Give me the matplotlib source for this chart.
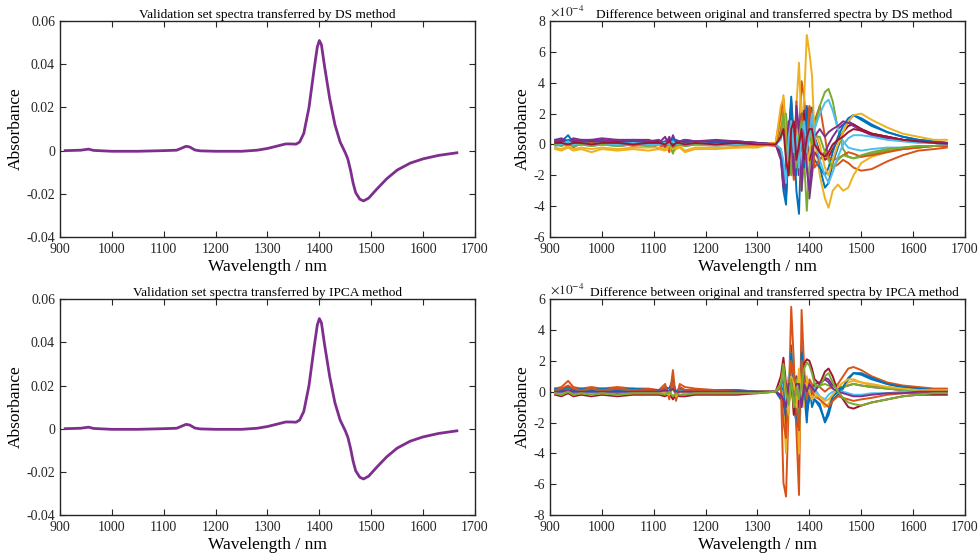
import matplotlib
matplotlib.use("Agg")
import matplotlib.pyplot as plt
import numpy as np

plt.rcParams['font.family'] = ['Liberation Serif', 'DejaVu Serif']
plt.rcParams['mathtext.fontset'] = 'stix'

# ---- mean validation spectrum (same shape for DS and IPCA panels)
wl_spec = [910, 940, 955, 965, 1000, 1050, 1100, 1125, 1135, 1143, 1150, 1160, 1170,
           1200, 1250, 1280, 1300, 1320, 1335, 1345, 1355, 1362, 1370, 1380, 1390,
           1396, 1400, 1404, 1410, 1420, 1430, 1440, 1450, 1455, 1460, 1465, 1470,
           1478, 1485, 1495, 1510, 1530, 1550, 1575, 1600, 1630, 1665]
abs_spec = [0.0, 0.0002, 0.0007, 0.0001, -0.0003, -0.0003, 0.0, 0.0002, 0.0012, 0.002,
            0.0017, 0.0003, -0.0001, -0.0003, -0.0003, 0.0002, 0.001, 0.0022, 0.0031,
            0.0031, 0.003, 0.004, 0.008, 0.02, 0.038, 0.048, 0.051, 0.049, 0.039, 0.024,
            0.012, 0.004, -0.001, -0.004, -0.009, -0.015, -0.0195, -0.0225, -0.0233,
            -0.022, -0.018, -0.013, -0.009, -0.0058, -0.0038, -0.0022, -0.001]

# ---- wavelength grid of the difference curves
wl_diff = [910, 922, 935, 945, 960, 980, 1000, 1030, 1060, 1090,
           1110, 1122, 1130, 1137, 1143, 1150, 1160, 1180, 1220, 1260,
           1300, 1335, 1345, 1350, 1355, 1360, 1365, 1370, 1375, 1380,
           1385, 1390, 1395, 1400, 1405, 1410, 1420, 1430, 1437, 1445,
           1455, 1465, 1475, 1485, 1500, 1520, 1550, 1580, 1610, 1640, 1665]

# DS differences (x 1e-4)
ds_1 = [0.3, 0.2, 0.6, 0.1, 0.3, 0.2, 0.3, 0.2, 0.3, 0.2, 0.2, 0.1, 0.4, 0.0, 0.3, 0.2, 0.3, 0.2, 0.2, 0.2, 0.1,
        0.0, -0.5, -3.0, -3.9, 0.5, 3.1, 0.5, -3.0, -4.5, 1.0, 2.5, -1.0, 2.0, 2.4, 0.5,
        -1.5, -2.8, -2.5, -1.2, -0.2, 0.8, 1.5, 1.9, 1.6, 1.2, 0.8, 0.5, 0.3, 0.2, 0.1]
ds_2 = [0.1, -0.1, 0.2, -0.2, 0.1, -0.1, 0.1, -0.1, 0.0, 0.1, -0.3, 0.2, -0.5, 0.3, -0.2, 0.0, -0.1, 0.0, 0.0, -0.1, 0.0,
        -0.1, 1.0, 2.5, 1.0, -2.0, 2.6, -2.3, 1.5, 0.5, 4.1, 3.0, 0.5, 2.5, 2.0, 1.5,
        2.5, 0.5, -1.0, -1.5, -1.3, -1.0, -1.2, -1.5, -1.7, -1.6, -1.1, -0.7, -0.4, -0.3, -0.2]
ds_3 = [-0.3, -0.4, -0.2, -0.4, -0.3, -0.5, -0.3, -0.4, -0.3, -0.4, -0.3, -0.4, -0.2, -0.5, -0.3, -0.2, -0.5, -0.3, -0.3, -0.2, -0.2,
        0.1, 1.5, 3.2, 1.0, -1.5, 2.0, -1.0, 2.5, 5.3, 1.0, 3.0, 7.1, 6.0, 4.5, 0.5,
        -2.0, -3.5, -4.1, -3.0, -2.6, -3.0, -2.8, -2.0, -1.2, -0.8, -0.5, -0.3, -0.2, -0.1, -0.1]
ds_4 = [0.3, 0.4, 0.2, 0.4, 0.3, 0.3, 0.4, 0.3, 0.3, 0.3, 0.1, 0.5, -0.2, 0.6, 0.1, 0.2, 0.3, 0.2, 0.3, 0.2, 0.1,
        0.0, -0.8, -2.5, -3.2, 0.8, 2.5, -1.5, 2.2, -2.0, 1.5, 2.2, -1.0, -3.5, -2.0, -0.5,
        -1.0, -0.5, 0.0, 0.5, 1.0, 1.3, 1.5, 1.3, 1.0, 0.7, 0.5, 0.3, 0.2, 0.1, 0.1]
ds_5 = [0.2, 0.1, 0.2, 0.0, 0.1, 0.1, 0.0, 0.1, 0.1, 0.0, 0.0, -0.1, 0.2, -0.6, 0.1, 0.0, 0.1, 0.0, 0.1, 0.0, 0.0,
        0.0, 0.5, 1.5, 2.0, -0.5, -2.0, 1.0, 1.5, -1.0, -3.0, -1.0, -4.3, -1.5, 0.0, 1.0,
        2.5, 3.4, 3.6, 2.8, 1.0, -0.3, -0.8, -0.9, -0.8, -0.6, -0.4, -0.3, -0.2, -0.1, -0.05]
ds_6 = [-0.1, 0.0, 0.1, -0.1, 0.0, -0.1, 0.0, -0.1, 0.0, -0.1, 0.0, 0.0, 0.1, -0.1, 0.0, 0.0, -0.1, 0.0, -0.1, 0.0, 0.0,
        0.0, 0.3, 1.2, -0.5, -1.5, 1.8, 0.0, -1.0, 1.5, -2.0, 0.5, -1.0, 1.0, 1.5, 1.0,
        2.0, 2.7, 2.9, 2.2, 1.0, 0.2, -0.2, -0.3, -0.4, -0.3, -0.2, -0.2, -0.1, -0.1, 0.0]
ds_7 = [0.1, 0.2, 0.1, 0.2, 0.1, 0.2, 0.1, 0.2, 0.1, 0.1, 0.2, 0.0, 0.3, 0.0, 0.1, 0.1, 0.1, 0.1, 0.1, 0.1, 0.1,
        0.0, -0.5, -1.5, -2.0, 1.0, 1.5, -1.5, 1.0, 1.5, -1.0, 2.0, 1.0, -1.0, -0.5, 0.5,
        -0.5, -1.0, -0.8, -0.3, 0.3, 0.8, 1.2, 1.3, 1.0, 0.7, 0.5, 0.3, 0.2, 0.1, 0.1]
ds_8 = [0.2, 0.1, 0.3, 0.1, 0.2, 0.1, 0.2, 0.1, 0.2, 0.1, 0.1, 0.2, 0.0, 0.4, 0.1, 0.1, 0.2, 0.1, 0.1, 0.1, 0.1,
        0.0, -0.3, -1.5, -3.4, -0.5, 2.8, -1.0, -2.0, 1.0, 2.0, -1.5, 2.5, 1.0, -0.5, -1.0,
        -1.5, -2.0, -1.5, -0.5, 0.5, 1.2, 1.7, 1.9, 1.7, 1.3, 0.8, 0.5, 0.3, 0.2, 0.1]
ds_9 = [0.0, 0.1, -0.1, 0.1, 0.0, 0.1, 0.0, 0.1, -0.1, 0.0, 0.1, -0.2, 0.1, 0.0, -0.1, 0.1, 0.0, 0.1, 0.0, 0.0, 0.0,
        0.1, 2.0, 2.9, 0.5, -1.5, 1.0, -2.2, 2.8, -1.0, 2.0, 1.0, -0.5, 2.4, 1.0, -1.5,
        -1.0, -0.5, -0.8, -1.0, -0.9, -0.7, -0.5, -0.6, -0.8, -0.7, -0.5, -0.3, -0.2, -0.1, -0.1]
ds_10 = [-0.2, -0.3, -0.1, -0.3, -0.2, -0.3, -0.2, -0.3, -0.2, -0.2, -0.2, -0.3, -0.1, -0.3, -0.2, -0.1, -0.4, -0.2, -0.2, -0.2, -0.1,
         0.1, 2.5, 3.0, 0.5, -1.0, 1.5, -0.5, 1.0, 0.0, -1.0, 0.5, -1.5, -0.5, 0.5, 1.0,
         0.0, -1.5, -2.0, -1.0, 0.0, 0.8, 1.5, 1.9, 2.0, 1.6, 1.1, 0.7, 0.5, 0.3, 0.3]
ds_11 = [0.2, 0.3, 0.1, 0.3, 0.2, 0.3, 0.2, 0.3, 0.2, 0.2, 0.3, -0.1, 0.5, -0.1, 0.2, 0.2, 0.2, 0.2, 0.2, 0.2, 0.1,
         0.0, -1.0, -2.8, -1.5, 1.5, 0.5, -2.0, 2.5, 1.0, -3.0, 1.0, -1.5, -3.0, -1.0, 0.5,
         1.0, 0.5, 0.8, 1.0, 1.2, 1.5, 1.4, 1.2, 0.9, 0.6, 0.4, 0.3, 0.2, 0.1, 0.1]
ds_12 = [0.0, -0.1, 0.1, -0.1, 0.0, -0.1, 0.0, -0.1, 0.0, -0.1, 0.0, 0.0, 0.0, -0.2, 0.0, 0.0, -0.1, 0.0, 0.0, 0.0, 0.0,
         0.0, 0.5, 2.0, 0.0, -1.0, 1.0, 0.5, -1.5, 0.5, 1.5, -1.0, 0.5, 1.0, 0.0, 0.5,
         0.5, -0.5, -1.0, -1.5, -1.0, -0.7, -0.8, -0.9, -0.7, -0.5, -0.3, -0.2, -0.1, -0.1, 0.0]
ds_13 = [0.1, 0.0, 0.2, 0.0, 0.1, 0.0, 0.1, 0.0, 0.1, 0.0, 0.0, 0.1, 0.0, 0.2, 0.0, 0.1, 0.0, 0.1, 0.0, 0.0, 0.0,
         0.0, -0.3, -1.0, -2.5, 0.5, 1.5, -0.5, 0.5, -1.5, 0.5, 1.5, -0.5, 0.5, 2.0, 0.5,
         -1.0, -2.0, -2.5, -1.8, -0.8, 0.0, 0.4, 0.6, 0.6, 0.5, 0.3, 0.2, 0.1, 0.1, 0.0]
ds_14 = [0.1, 0.1, 0.0, 0.1, 0.1, 0.0, 0.1, 0.1, 0.0, 0.1, 0.1, 0.0, 0.2, -0.1, 0.1, 0.1, 0.0, 0.1, 0.0, 0.1, 0.0,
         0.0, 0.5, 1.0, -1.0, -2.0, 1.0, 1.5, -1.0, 0.0, 1.0, -1.0, 0.5, 1.0, 1.0, 0.0,
         -0.5, -0.8, -0.5, 0.0, 0.3, 0.5, 0.8, 1.0, 0.9, 0.7, 0.5, 0.3, 0.2, 0.1, 0.05]

# IPCA differences (x 1e-4)
ipca_1 = [0.1, 0.0, 0.3, 0.1, 0.0, 0.1, 0.0, 0.1, 0.0, 0.1, 0.0, 0.3, 0.2, 0.8, -0.2, 0.3, 0.1, 0.0, 0.1, 0.0, 0.0,
          0.0, -0.5, 1.0, -3.0, -1.0, 3.0, -1.0, -2.0, -3.5, 3.0, 0.0, -2.0, 0.5, -1.0, -0.5,
          -0.8, -2.0, -1.5, -0.5, -0.2, 0.2, 0.8, 1.2, 1.1, 0.8, 0.5, 0.3, 0.2, 0.1, 0.1]
ipca_2 = [0.2, 0.3, 0.7, 0.3, 0.2, 0.3, 0.2, 0.3, 0.2, 0.2, 0.1, 0.5, -0.5, 1.4, -0.6, 0.5, 0.3, 0.2, 0.1, 0.1, 0.0,
          0.0, 0.5, -5.9, -6.8, -1.0, 5.5, 2.0, -2.5, -6.7, 5.3, 1.5, -1.0, 0.8, 0.5, 0.3,
          0.3, 0.0, 0.2, 0.3, 0.5, 1.0, 1.5, 1.6, 1.4, 1.0, 0.6, 0.4, 0.3, 0.2, 0.2]
ipca_3 = [-0.1, 0.0, 0.2, 0.0, -0.1, 0.0, -0.1, 0.0, -0.1, 0.0, -0.1, 0.2, -0.2, 0.5, -0.3, 0.2, 0.0, -0.1, 0.0, -0.1, 0.0,
          0.0, 0.3, -1.0, -4.0, 0.5, 2.5, -1.5, 1.0, -4.0, 2.0, -1.0, 1.0, -0.5, -0.3, 0.0,
          -0.5, -1.0, -0.8, -0.3, 0.0, 0.3, 0.6, 0.7, 0.6, 0.4, 0.3, 0.2, 0.1, 0.1, 0.1]
ipca_4 = [0.0, -0.1, 0.1, -0.1, 0.0, -0.1, 0.0, -0.1, 0.0, -0.1, 0.0, 0.0, 0.0, 0.3, -0.1, 0.0, -0.1, 0.0, 0.0, 0.0, 0.0,
          0.0, -0.3, -0.8, -1.6, -0.8, 0.3, -0.5, 1.0, 0.0, -0.5, 1.0, -1.3, -0.5, 0.0, 0.5,
          0.6, 0.9, 0.8, 0.4, 0.2, 0.3, 0.4, 0.5, 0.4, 0.3, 0.2, 0.1, 0.1, 0.1, 0.0]
ipca_5 = [0.1, 0.0, 0.2, 0.0, 0.1, 0.0, 0.1, 0.0, 0.1, 0.0, 0.1, 0.1, 0.0, 0.4, 0.0, 0.1, 0.0, 0.1, 0.0, 0.0, 0.0,
          0.0, 0.5, 1.0, -1.5, 0.5, 1.8, -0.8, 0.8, -1.5, 1.5, -0.5, 0.5, 0.2, 0.0, 0.3,
          0.4, 0.5, 0.4, 0.3, 0.4, 0.3, 0.4, 0.5, 0.4, 0.3, 0.2, 0.1, 0.1, 0.1, 0.0]
ipca_6 = [0.0, -0.1, 0.1, 0.0, 0.0, -0.1, 0.0, 0.0, -0.1, 0.0, 0.0, 0.1, -0.1, 0.3, -0.1, 0.1, 0.0, 0.0, 0.0, 0.0, 0.0,
          0.0, 0.2, 0.5, -0.5, 1.0, 1.5, -0.5, -1.0, 1.0, -1.0, 0.5, -0.5, 0.0, 0.3, 0.2,
          -0.3, -0.5, -0.2, 0.0, 0.1, 0.0, -0.1, -0.2, -0.2, -0.1, -0.1, 0.0, 0.0, 0.0, 0.0]
ipca_7 = [-0.2, -0.3, -0.1, -0.3, -0.2, -0.3, -0.2, -0.3, -0.2, -0.2, -0.2, -0.3, -0.1, -0.5, -0.2, -0.3, -0.3, -0.2, -0.2, -0.2, -0.1,
          0.0, 1.0, 2.2, 0.5, -1.0, 1.0, -1.5, 0.5, -1.0, 1.0, 1.8, 2.1, 2.0, 1.5, 0.8,
          0.5, 1.3, 1.5, 1.0, 0.0, -0.5, -1.0, -1.1, -0.9, -0.7, -0.5, -0.3, -0.2, -0.2, -0.2]
ipca_8 = [0.2, 0.1, 0.3, 0.1, 0.2, 0.1, 0.2, 0.1, 0.2, 0.1, 0.1, 0.2, 0.0, 0.5, 0.0, 0.2, 0.1, 0.1, 0.1, 0.1, 0.0,
          0.0, 0.3, 1.5, -2.0, -0.5, 2.5, 0.0, -1.5, -2.5, 2.5, 0.5, -1.5, 0.0, -0.5, -0.5,
          -1.0, -1.9, -1.2, -0.3, 0.0, 0.3, 0.9, 1.2, 1.2, 0.9, 0.5, 0.3, 0.2, 0.1, 0.1]
ipca_9 = [0.1, 0.2, 0.4, 0.2, 0.1, 0.2, 0.1, 0.2, 0.1, 0.1, 0.0, 0.3, -0.3, 0.6, -0.4, 0.3, 0.1, 0.1, 0.1, 0.0, 0.0,
          0.0, 0.3, -2.0, -3.0, 0.3, 2.0, 1.0, -1.0, -2.5, 2.0, 0.5, -0.5, 0.5, 0.0, -0.3,
          -0.5, -0.8, -1.0, -0.6, -0.3, -0.4, -0.5, -0.6, -0.5, -0.4, -0.2, -0.1, -0.1, 0.0, 0.0]
ipca_10 = [-0.1, -0.2, 0.0, -0.2, -0.1, -0.2, -0.1, -0.2, -0.1, -0.1, -0.1, -0.1, -0.2, 0.2, -0.3, 0.0, -0.1, -0.1, -0.1, -0.1, 0.0,
           0.0, 0.5, 1.5, -0.5, -1.5, 1.0, 0.5, -1.0, 1.5, -0.5, 0.5, 0.5, 0.0, -0.5, -0.3,
           -0.3, -0.6, -0.5, -0.2, 0.3, 0.6, 0.8, 0.8, 0.6, 0.5, 0.3, 0.2, 0.1, 0.1, 0.1]
ipca_11 = [0.0, 0.0, 0.1, 0.0, 0.0, 0.0, 0.0, 0.0, 0.0, 0.0, 0.0, 0.1, 0.0, 0.2, -0.1, 0.0, 0.0, 0.0, 0.0, 0.0, 0.0,
           0.0, -0.2, -0.5, -1.0, 0.5, 0.5, -1.0, 0.5, 0.5, -1.0, 0.5, 0.0, 0.5, 0.3, 0.0,
           0.5, 0.8, 0.6, 0.2, 0.0, -0.1, -0.2, -0.3, -0.3, -0.2, -0.1, -0.1, 0.0, 0.0, 0.0]
ipca_12 = [-0.1, -0.2, 0.0, -0.2, -0.1, -0.2, -0.1, -0.2, -0.1, -0.1, -0.1, -0.2, 0.0, -0.3, -0.1, -0.2, -0.2, -0.1, -0.1, -0.1, -0.1,
           0.0, 0.5, 1.8, 0.0, -0.8, 0.8, -1.0, 0.3, -0.5, 0.5, 1.5, 1.9, 1.7, 1.2, 0.5,
           0.3, 1.0, 1.2, 0.6, 0.0, -0.4, -0.7, -0.8, -0.9, -0.7, -0.5, -0.3, -0.2, -0.1, -0.1]

ds_curves = [ds_1, ds_2, ds_3, ds_4, ds_5, ds_6, ds_7, ds_8, ds_9, ds_10, ds_11, ds_12, ds_13, ds_14]
ipca_curves = [ipca_1, ipca_2, ipca_3, ipca_4, ipca_5, ipca_6, ipca_7, ipca_8, ipca_9, ipca_10, ipca_11, ipca_12]

# MATLAB default line colour order
matlab_colors = ['#0072BD', '#D95319', '#EDB120', '#7E2F8E', '#77AC30', '#4DBEEE', '#A2142F']

fig = plt.figure(figsize=(9.8, 5.55), dpi=100)
ax_l1 = fig.add_axes([0.0612, 0.573, 0.4235, 0.389])
ax_r1 = fig.add_axes([0.5612, 0.573, 0.4235, 0.389])
ax_l2 = fig.add_axes([0.0612, 0.072, 0.4235, 0.389])
ax_r2 = fig.add_axes([0.5612, 0.072, 0.4235, 0.389])

def style_axes(ax):
    ax.set_xlim(900, 1700)
    ax.set_xticks(np.arange(900, 1701, 100))
    ax.tick_params(direction='in', top=True, right=True, length=4, width=0.8,
                   labelsize=10, colors='#262626')
    ax.tick_params(axis='x', pad=4.5)
    ax.tick_params(axis='y', pad=3.5)
    for sp in ax.spines.values():
        sp.set_linewidth(1.0)
        sp.set_color('#262626')
    ax.set_xlabel('Wavelength / nm', fontsize=12.5, labelpad=2)
    ax.set_ylabel('Absorbance', fontsize=12.5, labelpad=2)

for ax, ttl in [(ax_l1, 'Validation set spectra transferred by DS method'),
                (ax_l2, 'Validation set spectra transferred by IPCA method')]:
    ax.plot(wl_spec, abs_spec, color='#7E2F8E', lw=2.0)
    ax.set_ylim(-0.04, 0.06)
    ax.set_yticks([-0.04, -0.02, 0, 0.02, 0.04, 0.06])
    ax.set_yticklabels(['-0.04', '-0.02', '0', '0.02', '0.04', '0.06'])
    style_axes(ax)
    ax.set_title(ttl, fontsize=9.6, pad=2)

for ax, curves, ylims, ttl in [
        (ax_r1, ds_curves, (-6, 8), 'Difference between original and transferred spectra by DS method'),
        (ax_r2, ipca_curves, (-8, 6), 'Difference between original and transferred spectra by IPCA method')]:
    for i, c in enumerate(curves):
        ax.plot(wl_diff, c, color=matlab_colors[i % 7], lw=1.4)
    ax.set_ylim(*ylims)
    yt = np.arange(ylims[0], ylims[1] + 1, 2)
    ax.set_yticks(yt)
    ax.set_yticklabels([str(int(v)) for v in yt])
    style_axes(ax)
    ax.set_title(ttl, fontsize=9.6, pad=2, x=0.54)
    ax.text(0.0, 1.01, r'$\times10^{-4}$', transform=ax.transAxes, fontsize=9.5,
            ha='left', va='bottom', color='#262626')

fig.savefig('out.png', dpi=100)
